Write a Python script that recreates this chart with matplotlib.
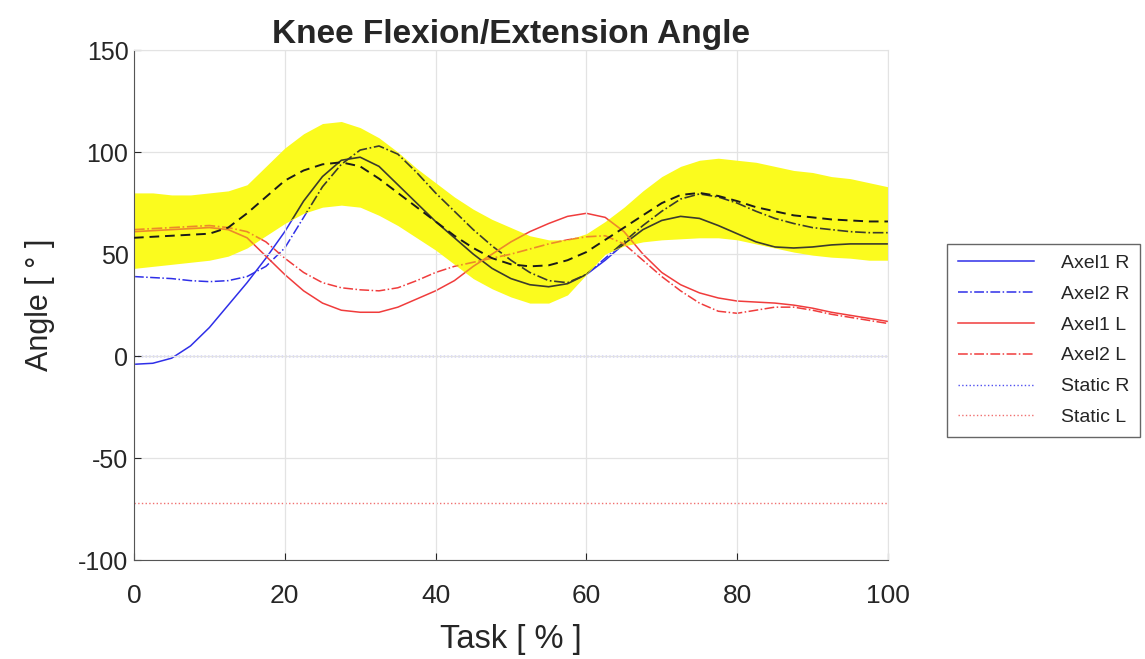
import numpy as np
import matplotlib
matplotlib.use('Agg')
import matplotlib.pyplot as plt
from matplotlib import rcParams

rcParams['font.family'] = ['Liberation Sans', 'DejaVu Sans']
rcParams['axes.unicode_minus'] = False
rcParams['text.color'] = '#262626'
rcParams['axes.labelcolor'] = '#262626'
rcParams['xtick.color'] = '#262626'
rcParams['ytick.color'] = '#262626'

# gait cycle, percent of task
task = np.arange(0, 100.1, 2.5)

# knee angle (deg) for each trial
axel1_r = [-4, -3.5, -1, 5, 14, 25, 36, 48, 61, 76, 88, 96, 97.5, 93, 84, 75,
           66, 58, 50, 43, 38, 35, 34, 35.5, 40, 47, 55, 62, 66.5, 68.5, 67.5,
           64, 60, 56, 53.5, 53, 53.5, 54.5, 55, 55, 55]
axel2_r = [39, 38.5, 38, 37, 36.5, 37, 39, 44, 53, 68, 83, 94, 101, 103, 99, 90,
           80, 71, 62, 54, 47, 41, 37, 36, 40, 48, 56, 64, 71, 77, 79.5,
           78, 75, 71, 67.5, 65, 63, 62, 61, 60.5, 60.5]
axel1_l = [61, 61.5, 62, 62.5, 63, 62, 58, 49, 40, 32, 26, 22.5, 21.5, 21.5, 24, 28,
           32, 37, 44, 50, 56, 61, 65, 68.5, 70, 68, 61, 50, 41, 35, 31,
           28.5, 27, 26.5, 26, 25, 23.5, 21.5, 20, 18.5, 17]
axel2_l = [62, 62.5, 63, 63.5, 64, 63, 61, 56, 48, 41, 36, 33.5, 32.5, 32, 33.5, 37,
           41, 44, 46, 48, 50, 52.5, 55, 57, 58.5, 59, 55, 47, 39, 32, 26,
           22, 21, 22.5, 24, 24, 22.5, 20.5, 19, 17.5, 16]
static_r = 0.0
static_l = -72.0

# normative corridor: mean and +/- band
norm_mean = [58, 58.5, 59, 59.5, 60, 63, 70, 78, 86, 91, 94, 95, 93, 87, 80, 73,
             66, 59, 53, 48, 45, 44, 44.5, 47, 51, 57, 63, 69, 75, 79, 80,
             78.5, 76, 73, 71, 69, 68, 67, 66.5, 66, 66]
norm_upper = [80, 80, 79, 79, 80, 81, 84, 93, 102, 109, 114, 115, 112, 107, 100, 92,
              85, 78, 72, 67, 63, 59, 57, 57, 60, 66, 73, 81, 88, 93, 96,
              97, 96, 95, 93, 91, 90, 88, 87, 85, 83]
norm_lower = [43, 44, 45, 46, 47, 49, 53, 59, 65, 70, 73, 74, 73, 69, 64, 58,
              52, 45, 38, 33, 29, 26, 26, 30, 40, 50, 54, 56, 57, 57.5, 58,
              58, 57, 55, 53, 51, 49.5, 48.5, 48, 47, 47]

fig = plt.figure(figsize=(11.45, 6.59), dpi=100)
ax = fig.add_axes([0.117, 0.150, 0.6585, 0.774])

band = ax.fill_between(task, norm_lower, norm_upper, color='#fbfb1e',
                       linewidth=0, zorder=1)
band_path = band.get_paths()[0]

blue = '#2f2fe8'
red = '#f03c3c'
ax.plot(task, axel1_r, color=blue, lw=1.1, label='Axel1 R', zorder=0.5)
ax.plot(task, axel2_r, color=blue, lw=1.1, ls='-.', label='Axel2 R', zorder=0.5)
ax.plot(task, axel1_l, color=red, lw=1.1, label='Axel1 L', zorder=0.5)
ax.plot(task, axel2_l, color=red, lw=1.1, ls='-.', label='Axel2 L', zorder=0.5)
ax.plot(task, [static_r] * len(task), color='#5050f0', lw=1.0, ls=':',
        label='Static R', zorder=0.5)
ax.plot(task, [static_l] * len(task), color='#f07070', lw=1.0, ls=':',
        label='Static L', zorder=0.5)

# trial curves seen through the corridor
inside = [(axel1_r, '-', '#3b3b2c'), (axel2_r, '-.', '#3b3b2c'),
          (axel1_l, '-', '#ec8a2a'), (axel2_l, '-.', '#ec8a2a')]
for vals, style, col in inside:
    ln, = ax.plot(task, vals, color=col, lw=1.2, ls=style, zorder=2)
    ln.set_clip_path(band_path, ax.transData)

ax.plot(task, norm_mean, color='#1a1a1a', lw=1.4, ls=(0, (5, 3)), zorder=3)

ax.set_xlim(0, 100)
ax.set_ylim(-100, 150)
ax.set_xticks([0, 20, 40, 60, 80, 100])
ax.set_yticks([-100, -50, 0, 50, 100, 150])
ax.grid(True, color='#e3e3e3', lw=0.9)
ax.set_axisbelow(True)
ax.tick_params(direction='in', length=5, width=0.8, top=False, right=False)
ax.tick_params(axis='x', labelsize=19, pad=17)
ax.tick_params(axis='y', labelsize=18, pad=4)
for side in ['left', 'bottom']:
    ax.spines[side].set_color('#555555')
for side in ['top', 'right']:
    ax.spines[side].set_color('#e3e3e3')

ax.set_title('Knee Flexion/Extension Angle', fontsize=24, fontweight='bold', pad=4)
ax.set_xlabel('Task [ % ]', fontsize=23.5, labelpad=12)
ax.set_ylabel('Angle [ \u00b0 ]', fontsize=22, labelpad=17)

leg = fig.legend(loc='upper left', bbox_to_anchor=(0.819, 0.645), fontsize=14,
                 handlelength=3.9, labelspacing=0.68, frameon=True,
                 fancybox=False, edgecolor='#404040', borderpad=0.55,
                 handletextpad=1.4)
leg.get_frame().set_linewidth(1.0)

fig.savefig('out.png', dpi=100)
